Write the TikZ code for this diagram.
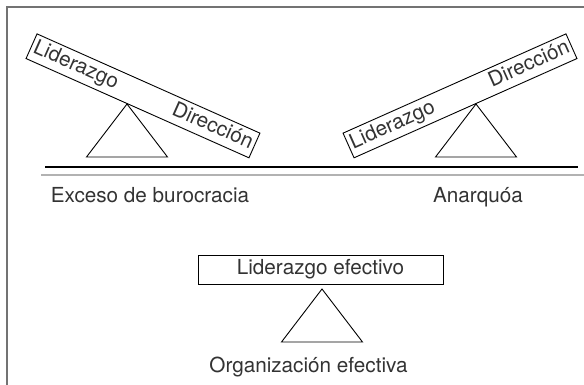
\documentclass[tikz,border=0pt]{standalone}
\usepackage{fontspec}
\setmainfont{TeX Gyre Heros}
\usetikzlibrary{calc,positioning}
\tikzset{
	plankBox/.style={
		draw=black,
		line width=0.9pt,
		inner xsep=3pt,
		inner ysep=0pt,
		minimum height=27pt,
		text width=#1,
		text=black!80,
		font=\fontsize{20.7}{22}\selectfont
	},
	flatBox/.style={
		draw=black,
		line width=0.9pt,
		minimum width=245pt,
		minimum height=29pt,
		inner sep=0pt,
		text=black!80,
		font=\fontsize{20.7}{22}\selectfont
	},
	pivotTri/.style={
		draw=black,
		line width=0.9pt,
		line join=miter
	},
	labelText/.style={
		inner sep=0pt,
		text=black!80,
		font=\fontsize{20.7}{22}\selectfont
	},
}
\begin{document}
\begin{tikzpicture}[x=1pt, y=1pt
    ,   frameLine/.style={draw=black!55, line width=1.6pt}
    ,   groundLine/.style={draw=black, line width=1.3pt}
    ,   shadowLine/.style={draw=black!30, line width=1.3pt}]
\useasboundingbox (0,0) rectangle (584,385);

% frame
\draw[frameLine] (7,0) -- (7,378) -- (584,378);

% ground
\coordinate (G1) at (45,218);
\coordinate (G2) at (578,218);
\coordinate (S1) at (41,210);
\coordinate (S2) at (584,210);
\draw[groundLine] (G1) -- (G2);
\draw[shadowLine] (S1) -- (S2);

% too much bureaucracy
\begin{scope}[]
    \coordinate (A1) at (127,281);
    \draw[pivotTri] (A1) -- ++(-40.5,-53) -- ++(81,0) -- cycle;
    \node[plankBox=238pt, rotate=-24, anchor=south] (P1) at ($(A1)+(-24:11.3)$) {Liderazgo\hfill Dirección};
    \node[labelText, anchor=base] (T1) at (150,182) {Exceso de burocracia};
\end{scope}

% anarchy
\begin{scope}[]
    \coordinate (A2) at (476,281);
    \draw[pivotTri] (A2) -- ++(-40.5,-53) -- ++(81,0) -- cycle;
    \node[plankBox=238pt, rotate=24, anchor=south] (P2) at ($(A2)+(204:11.3)$) {Liderazgo\hfill Dirección};
    \node[labelText, anchor=base] (T2) at (478,182) {Anarquóa};
\end{scope}

% balance
\begin{scope}[]
    \node[flatBox] (B3) at (320.5,115.5) {Liderazgo efectivo};
    \coordinate (A3) at (322,96);
    \draw[pivotTri] (A3) -- ++(-40.5,-53) -- ++(81,0) -- cycle;
    \node[labelText, anchor=base] (T3) at (308.5,12.3) {Organización efectiva};
\end{scope}

\end{tikzpicture}
\end{document}
